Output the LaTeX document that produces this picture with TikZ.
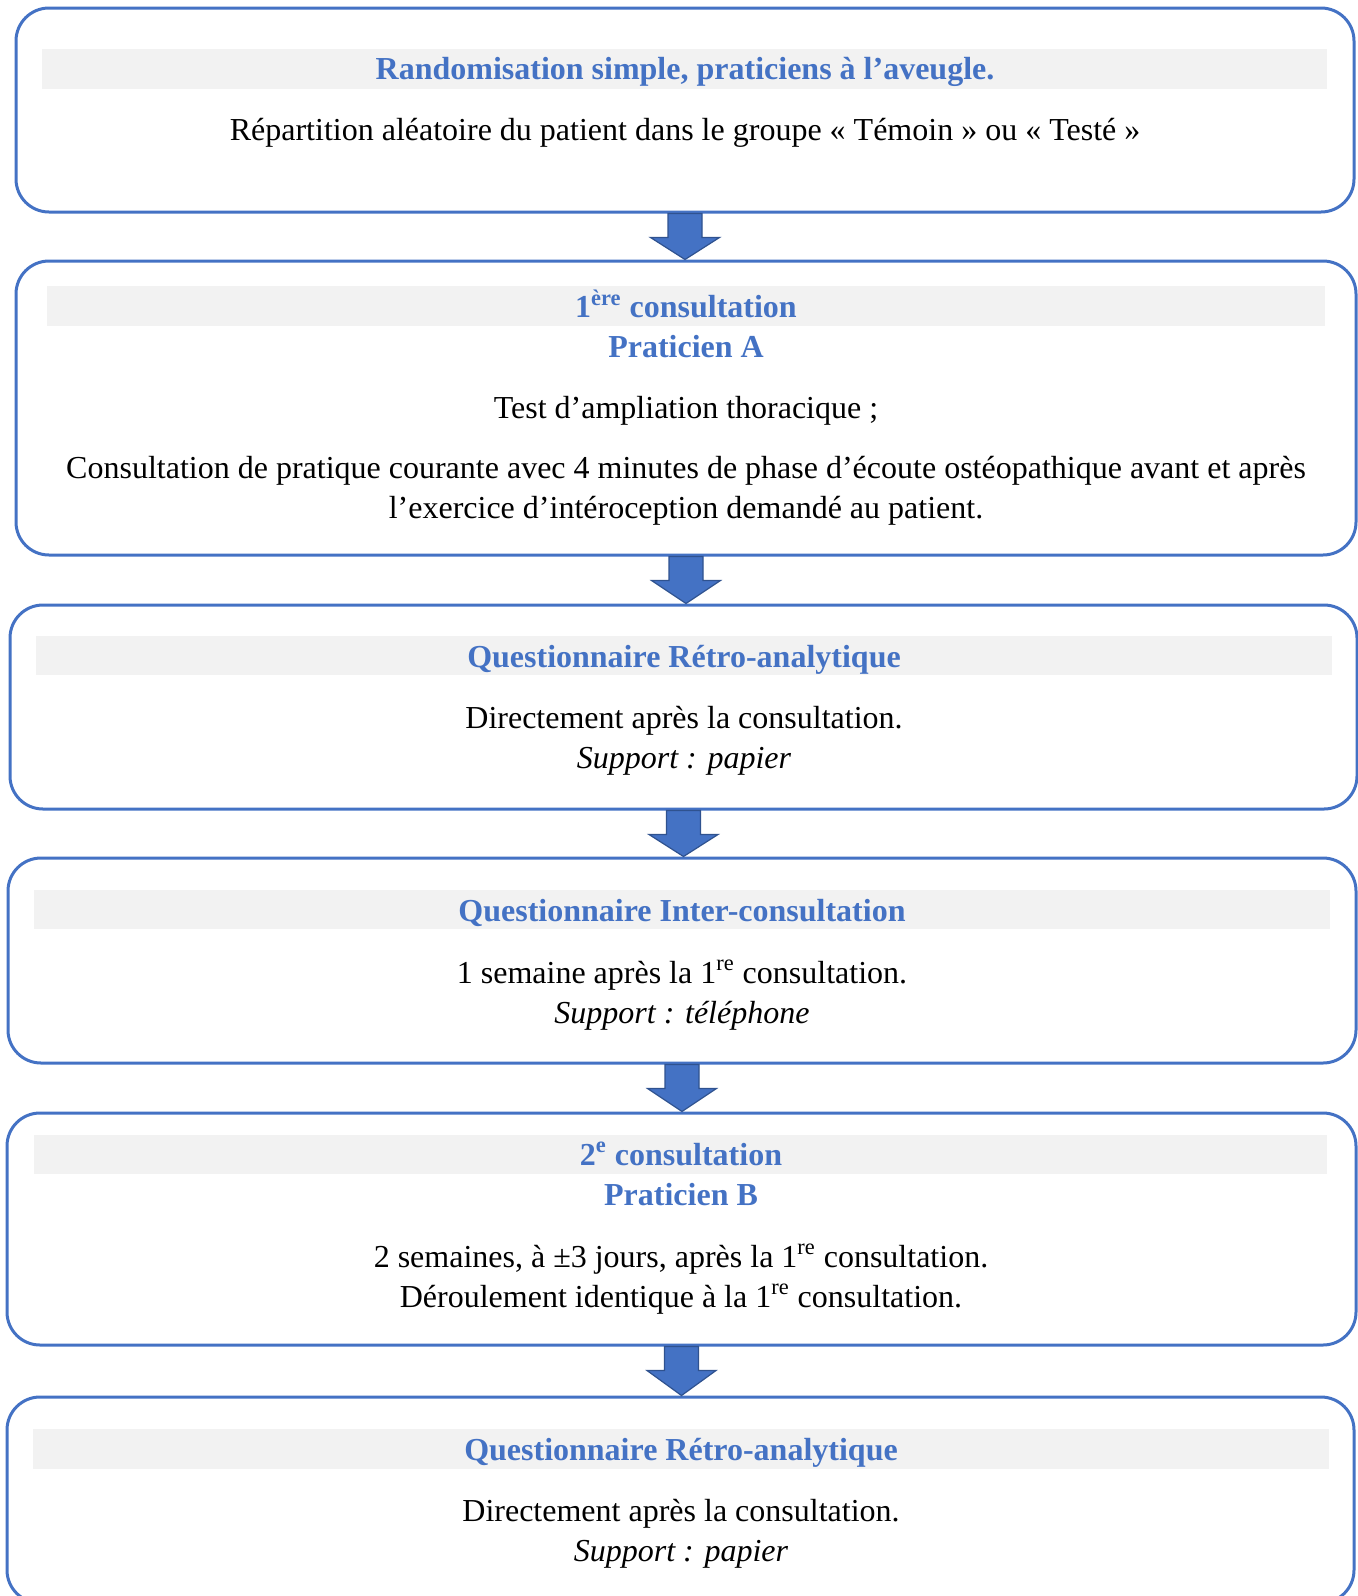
\documentclass[tikz,border=0pt]{standalone}
\usepackage{fontspec}
\setmainfont{Liberation Serif}
\usepackage{tikz}
\usetikzlibrary{fit,calc}
\definecolor{bleu}{HTML}{4472C4}
\definecolor{bleufonce}{HTML}{2F528F}
\definecolor{gris}{HTML}{F2F2F2}
\tikzstyle{etape}=[draw=bleu,line width=1.5pt,rounded corners=16.5pt,inner sep=0pt]
\tikzstyle{bandeau}=[fill=gris,inner sep=0pt]
\tikzstyle{titre}=[text=bleu,font=\fontsize{16}{20}\selectfont\bfseries,align=center,inner sep=0pt]
\tikzstyle{texte}=[font=\fontsize{16}{20}\selectfont,align=center,inner sep=0pt]
\tikzstyle{fleche}=[fill=bleu,draw=bleufonce,line width=0.6pt,line join=miter]

\begin{document}
\begin{tikzpicture}[x=0.5pt,y=-0.5pt]
		\useasboundingbox (0,0) rectangle (1358,1596);
		\clip (0,0) rectangle (1358,1596);
		% cadres
		\node[etape,fit={(16,8) (1354,212)}] (e1) {};
		\node[etape,fit={(16,261) (1356,555)}] (e2) {};
		\node[etape,fit={(10,605) (1357,809)}] (e3) {};
		\node[etape,fit={(8,858) (1356,1063)}] (e4) {};
		\node[etape,fit={(7,1113) (1356,1345)}] (e5) {};
		\node[etape,fit={(7,1397) (1354,1603)}] (e6) {};
		% bandeaux gris
		\node[bandeau,fit={(42,49) (1327,89)}] (b1) {};
		\node[bandeau,fit={(47,286) (1325,326)}] (b2) {};
		\node[bandeau,fit={(36,636) (1332,675)}] (b3) {};
		\node[bandeau,fit={(34,890) (1330,929)}] (b4) {};
		\node[bandeau,fit={(34,1135) (1327,1174)}] (b5) {};
		\node[bandeau,fit={(33,1429) (1329,1469)}] (b6) {};
		% textes
		\node[titre] (t1) at (685,72) {Randomisation simple, praticiens à l’aveugle.};
		\node[texte] (x1) at (685,133) {Répartition aléatoire du patient dans le groupe «~Témoin~» ou «~Testé~»};

		\node[titre] (t2) at (686,324) {1\textsuperscript{ère} consultation\\Praticien A};
		\node[texte] (x2) at (686,411) {Test d’ampliation thoracique ;};
		\node[texte] (y2) at (686,491) {Consultation de pratique courante avec 4 minutes de phase d’écoute ostéopathique avant et après\\l’exercice d’intéroception demandé au patient.};

		\node[titre] (t3) at (684,660) {Questionnaire Rétro-analytique};
		\node[texte] (x3) at (684,741) {Directement après la consultation.\\\textit{Support : papier}};

		\node[titre] (t4) at (682,913) {Questionnaire Inter-consultation};
		\node[texte] (x4) at (682,995) {1 semaine après la 1\textsuperscript{re} consultation.\\\textit{Support : téléphone}};

		\node[titre] (t5) at (681,1174) {2\textsuperscript{e} consultation\\Praticien B};
		\node[texte] (x5) at (681,1279) {2 semaines, à ±3 jours, après la 1\textsuperscript{re} consultation.\\Déroulement identique à la 1\textsuperscript{re} consultation.};

		\node[titre] (t6) at (681,1453) {Questionnaire Rétro-analytique};
		\node[texte] (x6) at (681,1534) {Directement après la consultation.\\\textit{Support : papier}};
		% fleches
		\foreach \a/\b in {e1/e2,e2/e3,e3/e4,e4/e5,e5/e6}
			\filldraw[fleche] ($(\a.south)+(-17,0)$) -- ($(\a.south)+(17,0)$) -- ($(\a.south)+(17,24)$) -- ($(\a.south)+(34.5,24)$)
				-- (\a.south |- \b.north) -- ($(\a.south)+(-34.5,24)$) -- ($(\a.south)+(-17,24)$) -- cycle;
\end{tikzpicture}
\end{document}
